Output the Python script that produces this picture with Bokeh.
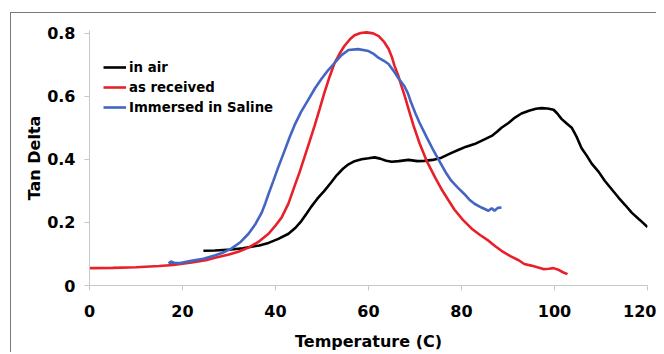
from bokeh.plotting import figure
from bokeh.models import Legend, LegendItem, FixedTicker, Range1d, InlineStyleSheet
from bokeh.embed import file_html
from bokeh.resources import INLINE

# "in air"
air_t = [24.5, 27, 30.5, 33, 34.8, 36.5, 38.5, 40.5, 42.8, 44.3, 45.6, 46.7, 47.7, 49, 50.5,
         52, 53.2, 54.5, 55.7, 57, 58.5, 60, 61.3, 62.5, 63.8, 65, 66.5, 68.6, 70.5, 72,
         73.8, 75.7, 77.5, 79.4, 81, 82.8, 84.5, 86.5, 87.7, 88.6, 90.1, 91.5, 92.9, 94.5,
         96, 97.2, 98.5, 99.8, 100.6, 101.5, 102.5, 103.7, 104.8, 105.8, 107, 108, 109.5,
         110.8, 112.3, 113.8, 115.2, 116.6, 118.4, 120]
air_v = [0.110, 0.111, 0.114, 0.118, 0.123, 0.127, 0.135, 0.147, 0.164, 0.183, 0.205, 0.228,
         0.250, 0.275, 0.300, 0.327, 0.350, 0.370, 0.384, 0.394, 0.400, 0.403, 0.406, 0.402,
         0.395, 0.392, 0.394, 0.398, 0.394, 0.395, 0.398, 0.405, 0.418, 0.430, 0.440, 0.448,
         0.460, 0.474, 0.488, 0.500, 0.515, 0.532, 0.545, 0.554, 0.560, 0.562, 0.561, 0.557,
         0.545, 0.528, 0.515, 0.500, 0.470, 0.436, 0.410, 0.386, 0.360, 0.332, 0.305, 0.278,
         0.255, 0.231, 0.207, 0.185]

# "as received"
rec_t = [0, 5, 10, 15, 18, 22, 25, 27, 30, 32, 34.2, 36.5, 38.5, 40, 41.3, 42.8, 44.1, 45.2,
         46.2, 47.3, 48.4, 49.5, 50.5, 51.6, 52.7, 53.8, 54.8, 56, 57, 58.3, 59.6, 61, 62.2,
         63.3, 64.3, 65.0, 65.6, 66.4, 67.1, 67.9, 68.6, 69.7, 71, 72.5, 74.4, 75.7, 77.2,
         78.5, 80.3, 82.2, 84, 85.8, 87.2, 88.6, 90.5, 92.3, 93.5, 95, 96.5, 97.6, 98.8,
         99.8, 100.8, 101.8, 102.8]
rec_v = [0.055, 0.056, 0.058, 0.062, 0.065, 0.073, 0.080, 0.088, 0.098, 0.107, 0.120, 0.140,
         0.164, 0.190, 0.215, 0.260, 0.315, 0.360, 0.405, 0.455, 0.506, 0.560, 0.610, 0.660,
         0.705, 0.735, 0.759, 0.780, 0.793, 0.800, 0.802, 0.799, 0.790, 0.773, 0.750, 0.725,
         0.696, 0.665, 0.632, 0.595, 0.560, 0.506, 0.450, 0.395, 0.340, 0.305, 0.270, 0.240,
         0.208, 0.180, 0.160, 0.142, 0.125, 0.110, 0.093, 0.080, 0.068, 0.063, 0.057, 0.052,
         0.053, 0.055, 0.050, 0.042, 0.036]

# "Immersed in Saline"
sal_t = [17.0, 17.5, 18.2, 19.5, 21.9, 24.5, 26.9, 28.5, 30.5, 32.5, 34.2, 35.7, 37, 37.8,
         38.5, 39.5, 40.6, 41.9, 43, 44.1, 45.5, 47.1, 48.5, 49.9, 51.3, 52.7, 54.2, 55.7,
         57.8, 60, 61.2, 62.2, 63.3, 64.3, 65.4, 66.5, 67.7, 68.5, 69.2, 70.1, 71, 72.5, 74,
         75.4, 76.8, 77.8, 79.2, 80.6, 81.7, 82.8, 84.3, 85.8, 86.5, 87.1, 87.8, 88.6]
sal_v = [0.070, 0.076, 0.072, 0.071, 0.078, 0.085, 0.095, 0.103, 0.117, 0.138, 0.164, 0.195,
         0.230, 0.260, 0.290, 0.330, 0.375, 0.425, 0.468, 0.508, 0.550, 0.590, 0.625, 0.655,
         0.682, 0.705, 0.730, 0.746, 0.749, 0.743, 0.733, 0.721, 0.712, 0.702, 0.680, 0.655,
         0.632, 0.608, 0.578, 0.545, 0.515, 0.470, 0.427, 0.390, 0.354, 0.332, 0.310, 0.290,
         0.272, 0.259, 0.247, 0.237, 0.245, 0.237, 0.246, 0.247]

x_ticks = [0, 20, 40, 60, 80, 100, 120]
y_ticks = [0, 0.2, 0.4, 0.6, 0.8]
y_tick_labels = {0: "0", 0.2: "0.2", 0.4: "0.4", 0.6: "0.6", 0.8: "0.8"}

frame_css = InlineStyleSheet(css=":host { border-left: 1px solid #7a7a7a; border-top: 1px solid #7a7a7a; box-sizing: border-box; }")

p = figure(width=646, height=340, output_backend="svg", toolbar_location=None,
           x_range=Range1d(0, 120), y_range=Range1d(0, 0.808),
           min_border_left=78, min_border_right=10, min_border_top=17, min_border_bottom=67,
           stylesheets=[frame_css])
p.margin = (12, 0, 0, 10)
p.outline_line_color = None
p.xgrid.visible = False
p.ygrid.visible = False

for ax in (p.xaxis[0], p.yaxis[0]):
    ax.axis_line_color = "#c8c8c8"
    ax.major_tick_line_color = "#c8c8c8"
    ax.major_tick_out = 5
    ax.major_tick_in = 0
    ax.minor_tick_line_color = None
    ax.major_label_text_font = "DejaVu Sans"
    ax.major_label_text_font_style = "bold"
    ax.major_label_text_font_size = "16px"
    ax.major_label_text_color = "black"
    ax.axis_label_text_font = "DejaVu Sans"
    ax.axis_label_text_font_style = "bold"
    ax.axis_label_text_font_size = "16px"
    ax.axis_label_text_color = "black"

p.xaxis.ticker = FixedTicker(ticks=x_ticks)
p.yaxis.ticker = FixedTicker(ticks=y_ticks)
p.yaxis.major_label_overrides = y_tick_labels
p.xaxis.axis_label = "Temperature (C)"
p.yaxis.axis_label = "Tan Delta"
p.xaxis.major_label_standoff = 14
p.yaxis.major_label_standoff = 9
p.xaxis.axis_label_standoff = 12
p.yaxis.axis_label_standoff = 0

r_air = p.line(air_t, air_v, line_color="black", line_width=2.6)
r_rec = p.line(rec_t, rec_v, line_color="#e8202a", line_width=2.6)
r_sal = p.line(sal_t, sal_v, line_color="#4466c2", line_width=2.6)

legend = Legend(items=[LegendItem(label="in air", renderers=[r_air]),
                       LegendItem(label="as received", renderers=[r_rec]),
                       LegendItem(label="Immersed in Saline", renderers=[r_sal])],
                location=(14, 168), orientation="vertical")
legend.background_fill_alpha = 0
legend.border_line_color = None
legend.padding = 0
legend.margin = 0
legend.spacing = 0
legend.glyph_width = 23
legend.glyph_height = 20
legend.label_height = 20
legend.label_standoff = 3
legend.label_text_font = "DejaVu Sans"
legend.label_text_font_style = "bold"
legend.label_text_font_size = "13.3px"
legend.label_text_color = "black"
p.add_layout(legend, "center")

open("out.html", "w").write(file_html(p, INLINE))
